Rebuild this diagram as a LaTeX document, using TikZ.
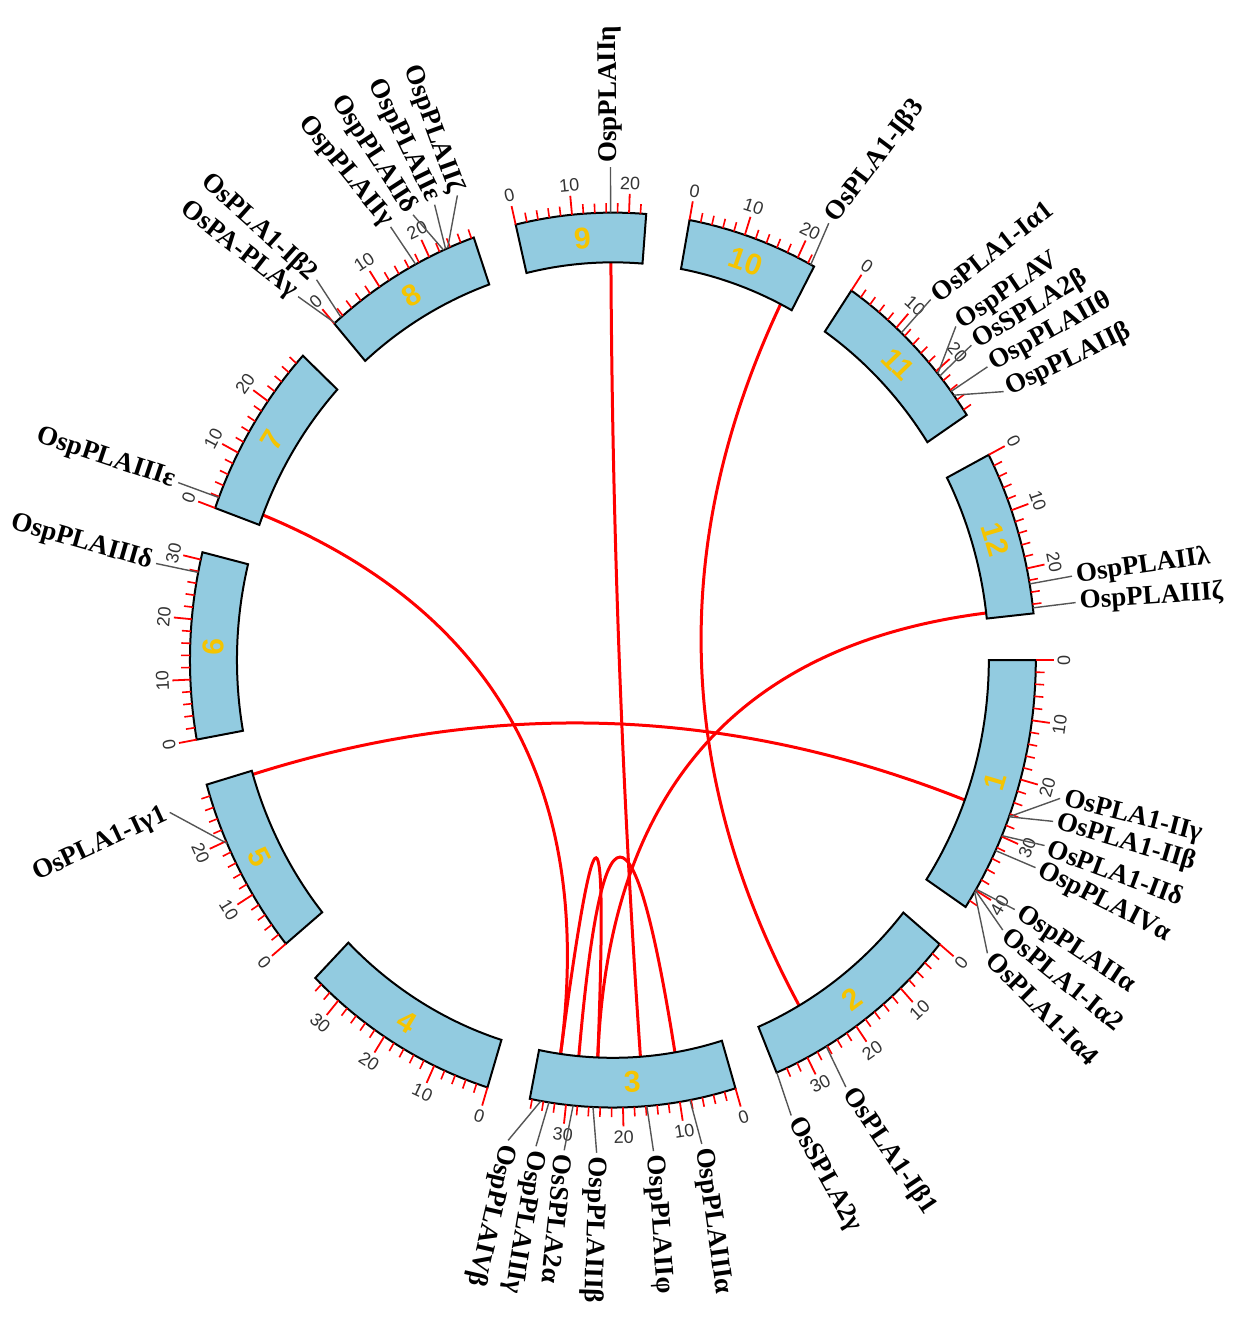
\documentclass[tikz,border=0pt]{standalone}
\usepackage{fontspec}
\setmainfont{Liberation Serif}
\setsansfont{Liberation Sans}
\usetikzlibrary{calc}

\definecolor{chrblue}{RGB}{146,203,224}
\definecolor{chrgold}{RGB}{245,196,0}
\definecolor{leadgray}{RGB}{85,85,85}

\newcommand{\Rin}{376}
\newcommand{\Rout}{423}
\newcommand{\mbdeg}{0.774}

\tikzset{
  chrband/.style={draw=black, line width=1pt, fill=chrblue},
  minortick/.style={red, line width=0.8pt},
  majortick/.style={red, line width=0.9pt},
  ticklabel/.style={font=\sffamily\fontsize{9}{9}\selectfont, text=black!80, inner sep=0pt},
  chrlabel/.style={font=\sffamily\bfseries\fontsize{15}{15}\selectfont, text=chrgold, inner sep=0pt},
  genelabel/.style={font=\bfseries\fontsize{13.5}{14}\selectfont, inner sep=2pt},
  leader/.style={draw=leadgray, line width=0.7pt},
  link/.style={red, line width=1.5pt,
    to path={.. controls ($(\tikztostart)!0.667!(ctr)$) and ($(\tikztotarget)!0.667!(ctr)$) .. (\tikztotarget)}},
}

\begin{document}
\begin{tikzpicture}[x=0.5pt, y=0.529pt]
  \useasboundingbox (-613,-621) rectangle (644,624);
  \coordinate (ctr) at (0,0);

  % links (angles clockwise from east, on the inner edge)
  \foreach \p/\q [count=\i] in {20.6/163.3, 296.5/60.3, 201.4/98.0, 269.7/85.8,
                                353.2/92.3, 98.0/92.3, 95.2/80.5}{
    \coordinate (k\i a) at (-\p:\Rin);
    \coordinate (k\i b) at (-\q:\Rin);
    \draw[link] (k\i a) to (k\i b);
  }

  % chromosomes: number / start angle / length in Mb
  \foreach \c/\st/\len in {1/0/43.27, 2/39.41/35.94, 3/73.15/36.41, 4/107.25/35.50,
                           5/140.65/29.96, 6/169.76/31.25, 7/199.87/29.70, 8/228.78/28.44,
                           9/256.71/23.01, 10/280.44/23.21, 11/304.32/29.02, 12/332.70/27.53}{
    \pgfmathsetmacro\aa{-\st}
    \pgfmathsetmacro\ab{-\st-\len*\mbdeg}
    \pgfmathsetmacro\am{(\aa+\ab)/2}
    \pgfmathsetmacro\roff{sin(\am)>0 ? -90 : 90}
    \draw[chrband] plot[domain=\aa:\ab, samples=30] (\x:\Rout)
      -- plot[domain=\ab:\aa, samples=30] (\x:\Rin) -- cycle;
    \node[chrlabel, rotate=\am+\roff] (chr\c) at (\am:399.5) {\c};
    \pgfmathtruncatemacro\nt{floor(\len/2)*2}
    \foreach \t in {0,2,...,\nt}{
      \pgfmathsetmacro\at{\aa-\t*\mbdeg}
      \pgfmathtruncatemacro\major{mod(\t,10)==0 ? 1 : 0}
      \ifnum\major=1
        \draw[majortick] (\at:\Rout) -- (\at:441);
        \node[ticklabel, rotate=\at+\roff] at (\at:451) {\t};
      \else
        \draw[minortick] (\at:\Rout) -- (\at:432);
      \fi
    }
  }

  % gene labels: gene angle / label angle / text direction / name
  \foreach \g/\la/\d/\txt [count=\i] in {
      20.5/16.3/14.5/OsPLA1-IIγ, 20.5/19.1/16.5/OsPLA1-IIβ, 23.1/22.1/20.5/OsPLA1-IIδ,
      25.2/24.9/27/OspPLAIVα, 30.8/30.4/33.5/OspPLAIIα, 31.0/33.2/39/OsPLA1-Iα2,
      31.2/36.5/45/OsPLA1-Iα4,
      59.7/60/56/OsPLA1-Iβ1, 67.2/67.5/61/OsSPLA2γ,
      79.5/79/82/OspPLAIIIα, 85.4/85/86/OspPLAIIφ, 92.7/92/92/OspPLAIIIβ,
      95.4/96/96/OsSPLA2α, 98.7/99.5/99.5/OspPLAIIIγ, 99.8/103/103/OspPLAIVβ,
      155.8/162/155/OsPLA1-Iγ1,
      191.3/191.3/196/OspPLAIIIδ,
      201.3/201.1/198.5/OspPLAIIIε,
      228.9/227.5/218/OsPA-PLAγ, 230.0/230.5/222/OsPLA1-Iβ2, 242.2/241.5/231/OspPLAIIγ,
      246.4/244.6/237/OspPLAIIδ, 246.7/247.5/244/OspPLAIIε, 247.0/250.5/250/OspPLAIIζ,
      269.7/269.7/269.7/OspPLAIIη,
      297.9/297.6/307/OsPLA1-Iβ3,
      313.0/313.0/322/OsPLA1-Iα1, 320.2/317.4/326/OspPLAV, 320.6/320.3/329/OsSPLA2β,
      323.1/323.5/331/OspPLAIIθ, 323.7/327/334/OspPLAIIβ,
      350.2/350.2/352/OspPLAIIλ, 353.3/353.3/356/OspPLAIIIζ}{
    \pgfmathsetmacro\ga{-\g}
    \pgfmathsetmacro\lb{-\la}
    \pgfmathtruncatemacro\flip{(\la>105)&&(\la<265) ? 1 : 0}
    \coordinate (g\i) at (\ga:\Rout);
    \ifnum\flip=1
      \node[genelabel, anchor=east, rotate=180-\d] (t\i) at (\lb:466) {\txt};
      \draw[leader] (g\i) -- (t\i.east);
    \else
      \node[genelabel, anchor=west, rotate=-\d] (t\i) at (\lb:466) {\txt};
      \draw[leader] (g\i) -- (t\i.west);
    \fi
  }
\end{tikzpicture}
\end{document}
